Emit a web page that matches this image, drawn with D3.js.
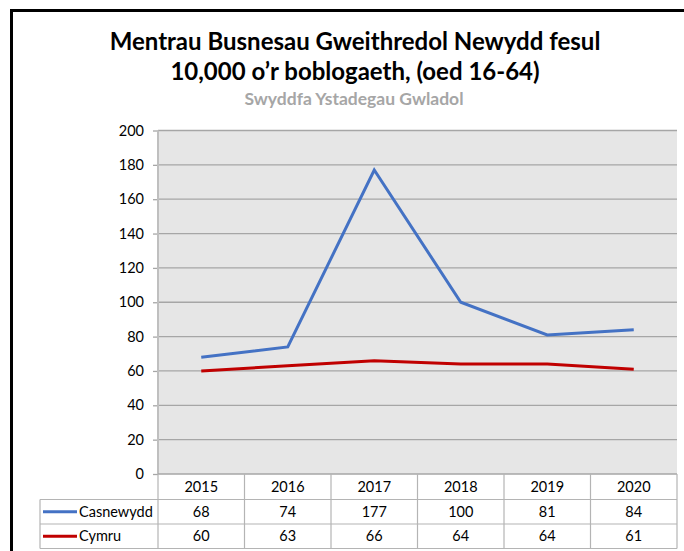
<!DOCTYPE html>
<html><head><meta charset="utf-8">
<script src="https://cdn.jsdelivr.net/npm/d3@7"></script>
<style>body{margin:0;background:#fff;}svg{display:block;font-family:Lato,"Open Sans",sans-serif;}</style>
</head><body>
<script>
const years = ["2015","2016","2017","2018","2019","2020"];
const casnewydd = [68,74,177,100,81,84];
const cymru = [60,63,66,64,64,61];
const yTicks = [0,20,40,60,80,100,120,140,160,180,200];
const seriesNames = ["Casnewydd","Cymru"];
const seriesColors = ["#4472C4","#C00000"];
const titleLines = ["Mentrau Busnesau Gweithredol Newydd fesul","10,000 o’r boblogaeth, (oed 16-64)"];
const subtitle = "Swyddfa Ystadegau Gwladol";

const W=684,H=551;
const svg=d3.select("body").append("svg").attr("width",W).attr("height",H);
// outer border
svg.append("rect").attr("x",11.5).attr("y",10.5).attr("width",W+20).attr("height",H+20)
  .attr("fill","none").attr("stroke","#000").attr("stroke-width",3);

const L=158,R=677,T=130.5,B=474;
const x=d3.scaleBand().domain(years).range([L,R]);
const y=d3.scaleLinear().domain([0,200]).range([B,T]);

// plot bg
svg.append("rect").attr("x",L).attr("y",T).attr("width",R-L).attr("height",B-T).attr("fill","#e6e6e6");
// grid
svg.append("g").selectAll("line").data(yTicks.filter(d=>d>0)).join("line")
  .attr("x1",L).attr("x2",R).attr("y1",d=>y(d)).attr("y2",d=>y(d))
  .attr("stroke","#a6a6a6").attr("stroke-width",1.3);
// y axis
const ya=svg.append("g").attr("transform",`translate(${L},0)`)
  .call(d3.axisLeft(y).tickValues(yTicks).tickSize(5).tickPadding(9));
ya.select(".domain").remove();
ya.selectAll(".tick line").attr("stroke","#a6a6a6").attr("stroke-width",1.3);
ya.selectAll(".tick text").attr("font-family","Lato,'Open Sans',sans-serif").attr("font-size",14.5).attr("fill","#000");
svg.append("line").attr("x1",L).attr("x2",L).attr("y1",T).attr("y2",B).attr("stroke","#bfbfbf").attr("stroke-width",2);

// lines
const series=[casnewydd,cymru];
const line=d3.line().x((d,i)=>x(years[i])+x.bandwidth()/2).y(d=>y(d));
series.forEach((s,k)=>{
  svg.append("path").datum(s).attr("d",line).attr("fill","none")
    .attr("stroke",seriesColors[k]).attr("stroke-width",3).attr("stroke-linejoin","miter");
});

// table
const rowH=[474,499.5,524,548.5];
const tcol="#b4b4b4";
svg.append("line").attr("x1",L).attr("x2",R).attr("y1",B).attr("y2",B).attr("stroke","#a6a6a6").attr("stroke-width",1.3);
[499.5,524,548.5].forEach(yy=>svg.append("line").attr("x1",40).attr("x2",R).attr("y1",yy).attr("y2",yy).attr("stroke",tcol).attr("stroke-width",1.2));
const cols=years.map(d=>x(d)).concat([R]);
cols.forEach(xx=>svg.append("line").attr("x1",xx).attr("x2",xx).attr("y1",B).attr("y2",548.5).attr("stroke",tcol).attr("stroke-width",1.2));
svg.append("line").attr("x1",40).attr("x2",40).attr("y1",499.5).attr("y2",548.5).attr("stroke",tcol).attr("stroke-width",1.2);
svg.append("g").selectAll("text").data(years).join("text")
  .attr("x",d=>x(d)+x.bandwidth()/2).attr("y",492).attr("text-anchor","middle")
  .attr("font-size",14.5).text(d=>d);
series.forEach((s,k)=>{
  const yc=(rowH[k+1]+rowH[k+2])/2;
  svg.append("line").attr("x1",43).attr("x2",77).attr("y1",yc).attr("y2",yc).attr("stroke",seriesColors[k]).attr("stroke-width",3);
  svg.append("text").attr("x",79).attr("y",yc+5).attr("font-size",14.5).text(seriesNames[k]);
  svg.append("g").selectAll("text").data(s).join("text")
    .attr("x",(d,i)=>x(years[i])+x.bandwidth()/2).attr("y",yc+5).attr("text-anchor","middle")
    .attr("font-size",14.5).text(d=>d);
});

// titles
titleLines.forEach((t,i)=>svg.append("text").attr("x",355).attr("y",50+i*30).attr("text-anchor","middle")
  .attr("font-size",24).attr("font-weight","bold").text(t));
svg.append("text").attr("x",354).attr("y",105).attr("text-anchor","middle").attr("font-size",17.5)
  .attr("font-weight","bold").attr("fill","#a6a6a6").text(subtitle);
</script>
</body></html>
